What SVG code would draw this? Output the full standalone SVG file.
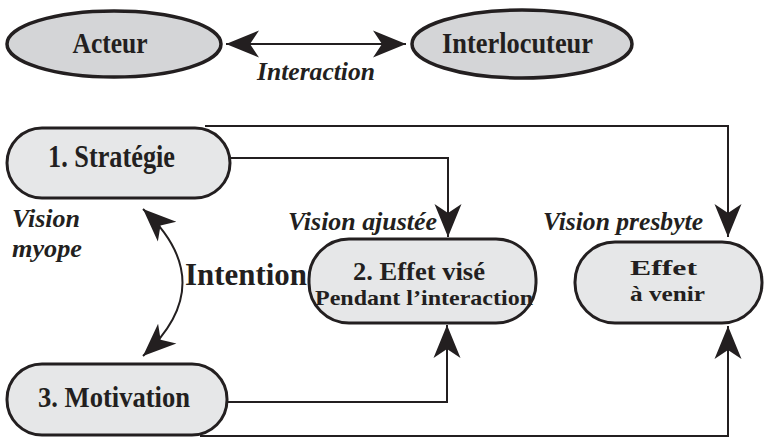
<svg xmlns="http://www.w3.org/2000/svg" width="765" height="437" viewBox="0 0 765 437">
<style>
  .ell { fill: #d4d5d7; stroke: #231f20; stroke-width: 3.5; }
  .box { fill: #e6e7e8; stroke: #231f20; stroke-width: 3; }
  .lbl { font-family: "Liberation Serif", "Times New Roman", serif; font-weight: bold; fill: #231f20; text-anchor: middle; }
  .it { font-family: "Liberation Serif", "Times New Roman", serif; font-weight: bold; font-style: italic; fill: #231f20; font-size: 25px; }
  .con { fill: none; stroke: #231f20; stroke-width: 2; }
</style>
<defs>
  <marker id="ah" markerUnits="userSpaceOnUse" viewBox="-34 -14 35 28" markerWidth="35" markerHeight="28" refX="0" refY="0" orient="auto-start-reverse">
    <path d="M0,0 L-33,-13.5 L-24,0 L-33,13.5 Z" fill="#231f20"/>
  </marker>
</defs>
<rect width="765" height="437" fill="#ffffff"/>

<g id="connectors">
  <path class="con" d="M226,44 L406,44" marker-start="url(#ah)" marker-end="url(#ah)"/>
  <path class="con" d="M205,126 L728,126 L728,237"  marker-end="url(#ah)"/>
  <path class="con" d="M230,158 L448,158 L448,237" marker-end="url(#ah)"/>
  <path class="con" d="M227,402 L447,402 L447,325" marker-end="url(#ah)"/>
  <path class="con" d="M200,436 L728,436 L728,326" marker-end="url(#ah)"/>
  <path class="con" d="M143,209 Q222,283 143,356" marker-start="url(#ah)" marker-end="url(#ah)"/>
</g>

<g id="acteur">
  <ellipse class="ell" cx="114" cy="44" rx="107" ry="33"/>
  <text class="lbl" x="110" y="53" font-size="30" textLength="75" lengthAdjust="spacingAndGlyphs">Acteur</text>
</g>
<g id="interlocuteur">
  <ellipse class="ell" cx="522" cy="44" rx="110" ry="34"/>
  <text class="lbl" x="517.5" y="53" font-size="30" textLength="151" lengthAdjust="spacingAndGlyphs">Interlocuteur</text>
</g>
<text class="it" x="257" y="80" textLength="118" lengthAdjust="spacingAndGlyphs">Interaction</text>

<g id="strategie">
  <rect class="box" x="7" y="128" width="223" height="70" rx="35" ry="35"/>
  <text class="lbl" x="111.5" y="167" font-size="31" textLength="127" lengthAdjust="spacingAndGlyphs">1. Stratégie</text>
</g>
<g id="motivation">
  <rect class="box" x="7" y="364" width="220" height="71" rx="35" ry="35"/>
  <text class="lbl" x="114" y="407" font-size="30" textLength="152" lengthAdjust="spacingAndGlyphs">3. Motivation</text>
</g>
<g id="effet-vise">
  <rect class="box" x="309" y="239" width="227" height="84" rx="40" ry="40"/>
  <text class="lbl" x="419" y="280" font-size="26" textLength="132" lengthAdjust="spacingAndGlyphs">2. Effet visé</text>
  <text class="lbl" x="424" y="305" font-size="22" textLength="218" lengthAdjust="spacingAndGlyphs">Pendant l’interaction</text>
</g>
<g id="effet-a-venir">
  <rect class="box" x="575" y="242" width="187" height="81" rx="40" ry="40"/>
  <text class="lbl" x="663.5" y="275" font-size="22" textLength="67" lengthAdjust="spacingAndGlyphs">Effet</text>
  <text class="lbl" x="667.5" y="301" font-size="22" textLength="75" lengthAdjust="spacingAndGlyphs">à venir</text>
</g>

<text class="it" x="12" y="227" textLength="68" lengthAdjust="spacingAndGlyphs">Vision</text>
<text class="it" x="12" y="257" textLength="70" lengthAdjust="spacingAndGlyphs">myope</text>
<text class="it" x="288" y="230" textLength="149" lengthAdjust="spacingAndGlyphs">Vision ajustée</text>
<text class="it" x="543" y="230" textLength="160" lengthAdjust="spacingAndGlyphs">Vision presbyte</text>
<text class="lbl" x="246" y="285" font-size="31" textLength="122" lengthAdjust="spacingAndGlyphs">Intention</text>
</svg>
